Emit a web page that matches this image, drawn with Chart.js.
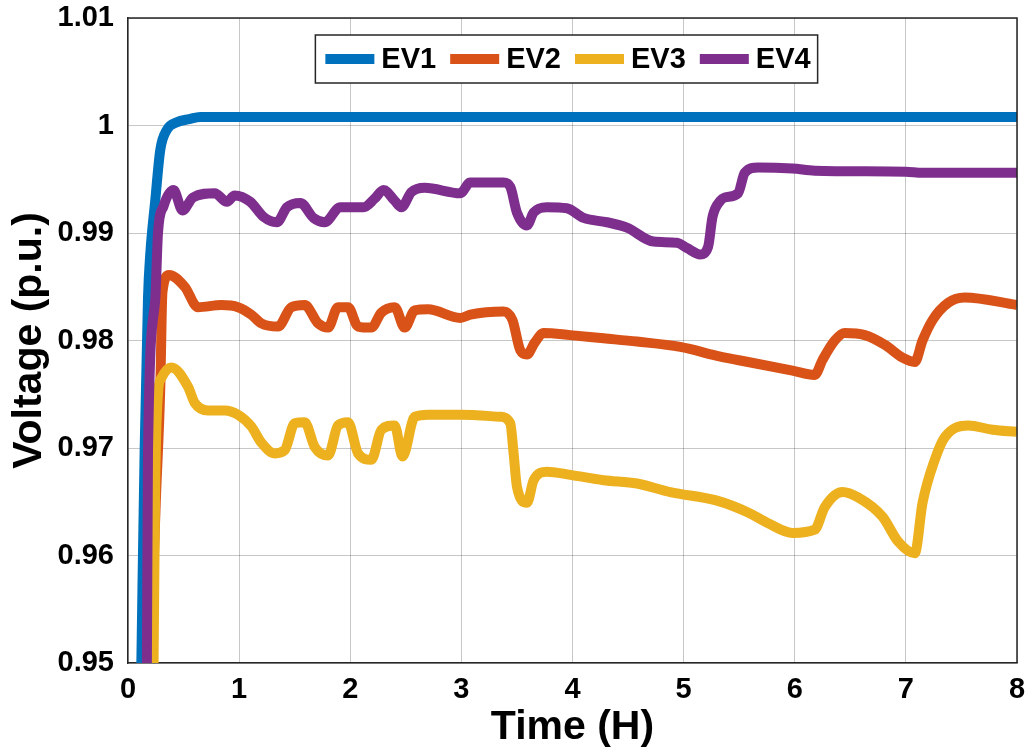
<!DOCTYPE html>
<html lang="en">
<head>
  <meta charset="UTF-8">
  <title>EV Voltage</title>
  <script src="https://cdn.jsdelivr.net/npm/chart.js"></script>
  <style>
    body { margin: 0; background: #fff; }
  </style>
</head>
<body>
<canvas id="voltChart" width="1032" height="752"></canvas>

<script>
  // values (time in hours, voltage in p.u.)
  const seriesNames = ['EV1', 'EV2', 'EV3', 'EV4'];
  const seriesColors = ['#0072BD', '#D95319', '#EDB120', '#7E2F8E'];

  const ev1Time = [0.12, 0.13, 0.15, 0.18, 0.2, 0.245, 0.29, 0.35, 0.44, 0.55, 0.65, 8];
  const ev1Volt = [0.95, 0.957, 0.97, 0.984, 0.988, 0.993, 0.9977, 0.9996, 1.0003, 1.0006, 1.0008, 1.0008];

  const ev2Time = [0.2, 0.25, 0.29, 0.31, 0.37, 0.51, 0.63, 0.84, 0.99, 1.11, 1.20, 1.35, 1.47, 1.59, 1.71,
    1.80, 1.89, 1.98, 2.07, 2.19, 2.28, 2.40, 2.49, 2.58, 2.70, 2.99, 3.08, 3.38, 3.46, 3.53, 3.59, 3.66,
    3.74, 3.98, 4.28, 4.58, 4.97, 5.33, 5.58, 5.98, 6.18, 6.25, 6.36, 6.45, 6.63, 6.81, 6.97, 7.08, 7.15,
    7.24, 7.38, 7.53, 8.0];
  const ev2Volt = [0.95, 0.965, 0.9754, 0.9845, 0.9861, 0.9850, 0.9831, 0.9833, 0.9831, 0.9824, 0.9816,
    0.9813, 0.9831, 0.9833, 0.9816, 0.9812, 0.9831, 0.9831, 0.9813, 0.9812, 0.9826, 0.9831, 0.9812, 0.9828,
    0.9829, 0.9821, 0.9824, 0.9827, 0.9819, 0.9791, 0.9787, 0.9798, 0.9807, 0.9805, 0.9802, 0.9799, 0.9794,
    0.9785, 0.9780, 0.9772, 0.9768, 0.9782, 0.9800, 0.9807, 0.9805, 0.9796, 0.9784, 0.9780, 0.9800, 0.9819,
    0.9835, 0.9840, 0.9833];

  const ev3Time = [0.23, 0.245, 0.27, 0.30, 0.39, 0.54, 0.60, 0.72, 0.87, 0.99, 1.11, 1.20, 1.32, 1.41,
    1.50, 1.59, 1.68, 1.80, 1.89, 1.98, 2.07, 2.19, 2.28, 2.40, 2.47, 2.58, 2.70, 2.99, 3.35, 3.44, 3.47,
    3.50, 3.59, 3.65, 3.77, 3.98, 4.28, 4.58, 4.88, 5.30, 5.58, 5.76, 5.98, 6.18, 6.27, 6.43, 6.57, 6.79,
    6.93, 7.08, 7.15, 7.26, 7.35, 7.56, 7.78, 8.0];
  const ev3Volt = [0.95, 0.9667, 0.9751, 0.9765, 0.9775, 0.9757, 0.9742, 0.9735, 0.9735, 0.9731, 0.9720,
    0.9705, 0.9695, 0.9698, 0.9723, 0.9724, 0.9701, 0.9693, 0.9721, 0.9724, 0.9695, 0.9689, 0.9717, 0.9721,
    0.9692, 0.9729, 0.9731, 0.9731, 0.9729, 0.9723, 0.9695, 0.9664, 0.9649, 0.9670, 0.9678, 0.9675, 0.9670,
    0.9667, 0.9659, 0.9651, 0.9640, 0.9630, 0.9621, 0.9624, 0.9645, 0.9659, 0.9654, 0.9636, 0.9613, 0.9602,
    0.9649, 0.9689, 0.9710, 0.9721, 0.9717, 0.9715];

  const ev4Time = [0.17, 0.18, 0.245, 0.27, 0.32, 0.41, 0.49, 0.585, 0.78, 0.89, 0.96, 1.10, 1.22, 1.34,
    1.43, 1.55, 1.67, 1.77, 1.91, 2.12, 2.22, 2.30, 2.40, 2.46, 2.55, 2.67, 2.99, 3.08, 3.38, 3.44, 3.50,
    3.59, 3.65, 3.77, 3.95, 4.10, 4.31, 4.49, 4.73, 4.94, 5.03, 5.15, 5.22, 5.26, 5.33, 5.37, 5.49, 5.55,
    5.67, 5.98, 6.18, 7.0, 7.15, 8.0];
  const ev4Volt = [0.95, 0.9698, 0.9838, 0.9900, 0.9925, 0.9940, 0.9921, 0.9933, 0.9937, 0.9929, 0.9935,
    0.9929, 0.9915, 0.9910, 0.9924, 0.9928, 0.9914, 0.9910, 0.9924, 0.9924, 0.9932, 0.9940, 0.9930, 0.9924,
    0.9938, 0.9942, 0.9937, 0.9947, 0.9947, 0.9943, 0.9919, 0.9907, 0.9919, 0.9924, 0.9923, 0.9914, 0.9910,
    0.9905, 0.9892, 0.9891, 0.9886, 0.9880, 0.9887, 0.9915, 0.9930, 0.9933, 0.9937, 0.9956, 0.9961, 0.9960,
    0.9958, 0.9957, 0.9956, 0.9956];

  const xTicks = [0, 1, 2, 3, 4, 5, 6, 7, 8];
  const yTicks = [0.95, 0.96, 0.97, 0.98, 0.99, 1, 1.01];

  const FONT = "'Liberation Sans', Arial, sans-serif";
  const times = [ev1Time, ev2Time, ev3Time, ev4Time];
  const volts = [ev1Volt, ev2Volt, ev3Volt, ev4Volt];

  const datasets = seriesNames.map((name, i) => ({
    label: name,
    data: times[i].map((t, j) => ({ x: t, y: volts[i][j] })),
    borderColor: seriesColors[i],
    backgroundColor: seriesColors[i],
    borderWidth: 10,
    pointRadius: 0,
    cubicInterpolationMode: 'monotone',
    clip: 0,
    order: 3 - i   // EV4 on top, like the original
  }));

  // top + right border of the axes box
  const boxPlugin = {
    id: 'box',
    afterDraw(chart) {
      const { ctx, chartArea: a } = chart;
      ctx.save();
      ctx.strokeStyle = '#262626';
      ctx.lineWidth = 1.5;
      ctx.beginPath();
      ctx.moveTo(a.left, a.top);
      ctx.lineTo(a.right, a.top);
      ctx.lineTo(a.right, a.bottom);
      ctx.stroke();
      ctx.restore();
    }
  };

  // legend drawn inside the plot with a frame
  const legendPlugin = {
    id: 'innerLegend',
    afterDraw(chart) {
      const { ctx, chartArea: a } = chart;
      const sets = chart.data.datasets;
      ctx.save();
      ctx.font = 'bold 29px ' + FONT;
      const sample = 49, gap = 7, between = 14, padL = 10, padR = 7;
      const widths = sets.map(d => ctx.measureText(d.label).width);
      let total = padL + padR + between * (sets.length - 1);
      widths.forEach(w => total += sample + gap + w);
      const h = 48;
      const left = (a.left + a.right) / 2 - total / 2 - 6;
      const top = a.top + 17;
      ctx.fillStyle = '#fff';
      ctx.fillRect(left, top, total, h);
      ctx.strokeStyle = '#262626';
      ctx.lineWidth = 1.5;
      ctx.strokeRect(left, top, total, h);
      let x = left + padL;
      const cy = top + h / 2;
      sets.forEach((d, i) => {
        ctx.fillStyle = d.borderColor;
        ctx.fillRect(x, cy - 5, sample, 10);
        x += sample + gap;
        ctx.fillStyle = '#000';
        ctx.textBaseline = 'middle';
        ctx.fillText(d.label, x, cy + 1);
        x += widths[i] + between;
      });
      ctx.restore();
    }
  };

  new Chart(document.getElementById('voltChart'), {
    type: 'line',
    data: { datasets },
    plugins: [boxPlugin, legendPlugin],
    options: {
      responsive: false,
      animation: false,
      layout: { padding: { top: 18, right: 15, left: 0, bottom: 0 } },
      plugins: {
        legend: { display: false },
        tooltip: { enabled: false }
      },
      scales: {
        x: {
          type: 'linear',
          min: xTicks[0],
          max: xTicks[xTicks.length - 1],
          afterBuildTicks: s => { s.ticks = xTicks.map(v => ({ value: v })); },
          afterFit: s => { s.height = 89; s.paddingLeft = 0; s.paddingRight = 0; },
          ticks: { color: '#000', font: { family: FONT, size: 29, weight: 'bold' }, padding: 10, maxRotation: 0 },
          grid: { color: 'rgba(0,0,0,0.22)', drawTicks: false },
          border: { color: '#262626', width: 1.5 },
          title: {
            display: true, text: 'Time (H)', color: '#000',
            font: { family: FONT, size: 41, weight: 'bold' }, padding: { top: 0, bottom: 0 }
          }
        },
        y: {
          min: yTicks[0],
          max: yTicks[yTicks.length - 1],
          afterBuildTicks: s => { s.ticks = yTicks.map(v => ({ value: v })); },
          afterFit: s => { s.width = 128; s.paddingTop = 0; s.paddingBottom = 0; },
          ticks: {
            color: '#000', font: { family: FONT, size: 29, weight: 'bold' }, padding: 14,
            callback: v => String(+v.toFixed(2))
          },
          grid: { color: 'rgba(0,0,0,0.22)', drawTicks: false },
          border: { color: '#262626', width: 1.5 },
          title: {
            display: true, text: 'Voltage (p.u.)', color: '#000',
            font: { family: FONT, size: 41, weight: 'bold' }, padding: { top: 5, bottom: 0 }
          }
        }
      }
    }
  });
</script>
</body>
</html>
